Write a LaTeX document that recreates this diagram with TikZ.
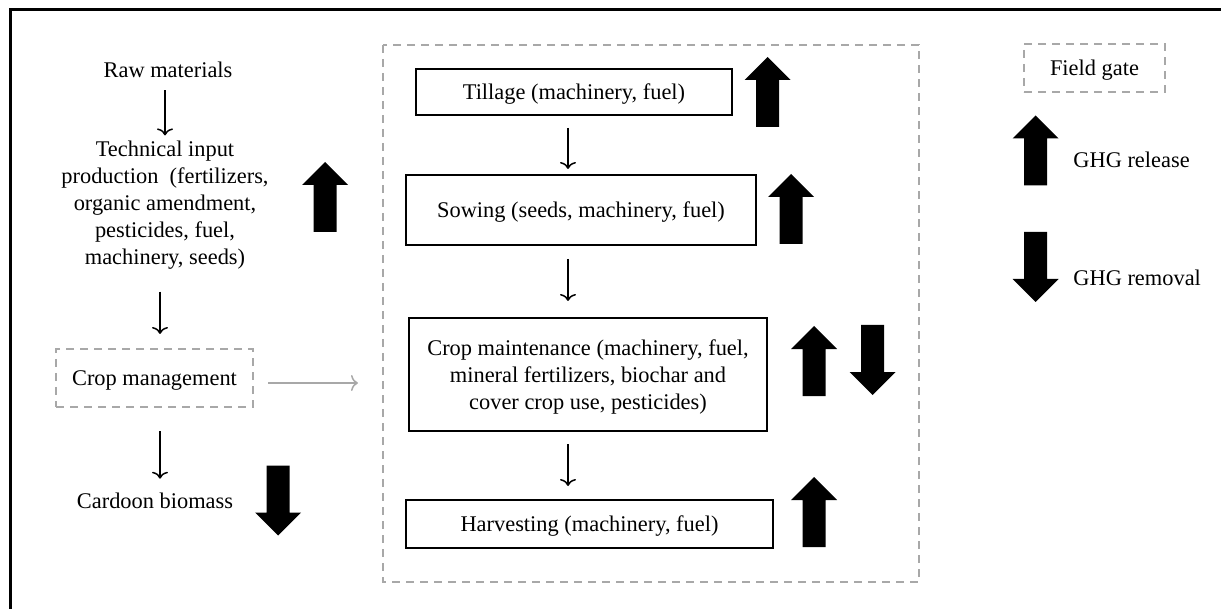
\documentclass[tikz,border=0pt]{standalone}
\usepackage{fontspec}
\setmainfont{Liberation Serif}
\usetikzlibrary{arrows.meta}
\definecolor{gatecolor}{RGB}{168,168,168}
\tikzset{
    ghgup/.pic={\fill (-11.5,35) -- (-11.5,-12) -- (-23,-12) -- (0,-35) -- (23,-12) -- (11.5,-12) -- (11.5,35) -- cycle;},
    ghgdown/.pic={\fill (-11.5,-35) -- (-11.5,12) -- (-23,12) -- (0,35) -- (23,12) -- (11.5,12) -- (11.5,-35) -- cycle;}
}
\begin{document}
\begin{tikzpicture}[x=0.5pt, y=-0.5pt, font=\fontsize{11.2}{13.5}\selectfont,
    stagebox/.style={rectangle, draw, line width=1pt, inner sep=0pt, align=center, text depth=0pt},
    gatebox/.style={rectangle, draw=gatecolor, line width=1pt, dash pattern=on 4pt off 3pt, inner sep=0pt, text depth=0pt},
    plain/.style={inner sep=0pt, align=center},
    flow/.style={-{To[length=3.5pt,width=8pt]}, line width=0.75pt},
    feed/.style={-{To[length=3.5pt,width=8pt]}, line width=0.75pt, gatecolor}]
    \clip (0,0) rectangle (1221,609);
    \useasboundingbox (0,0) rectangle (1221,609);
    \draw[line width=1.5pt] (10,10) rectangle (1250,650);

    % Upstream chain
    \node[plain] (raw) at (168,70) {Raw materials};
    \node[plain] (tech) at (165,205) {Technical input\\production\ \ (fertilizers,\\organic amendment,\\pesticides, fuel,\\machinery, seeds)};
    \node[gatebox, minimum width=98.5pt, minimum height=29pt] (mgmt) at (154.5,378) {Crop management};
    \node[plain] (cardoon) at (155,501) {Cardoon biomass};
    \coordinate (leftaxis) at (160,0);

    \draw[flow, shorten <=6pt, shorten >=2.5pt] (raw.south -| 165,0) -- (tech.north -| 165,0);
    \draw[flow, shorten <=11pt, shorten >=7pt] (tech.south -| leftaxis) -- (mgmt.north -| leftaxis);
    \draw[flow, shorten <=11.5pt, shorten >=7pt] (mgmt.south -| leftaxis) -- (cardoon.north -| leftaxis);

    \pic at (325,197) {ghgup};
    \pic at (278,500.5) {ghgdown};

    % Field operations
    \draw[gatebox] (383,45) rectangle (919,582);
    \node[stagebox, minimum width=158pt, minimum height=23pt] (till) at (574,92) {Tillage (machinery, fuel)};
    \node[stagebox, minimum width=175pt, minimum height=35pt] (sow) at (581,210) {Sowing (seeds, machinery, fuel)};
    \node[stagebox, minimum width=179pt, minimum height=56.5pt] (maint) at (588,374.5) {Crop maintenance (machinery, fuel,\\mineral fertilizers, biochar and\\cover crop use, pesticides)};
    \node[stagebox, minimum width=183.5pt, minimum height=24pt] (harv) at (589.5,524) {Harvesting (machinery, fuel)};
    \coordinate (midaxis) at (568,0);

    \draw[flow, shorten <=6pt, shorten >=2.5pt] (till.south -| midaxis) -- (sow.north -| midaxis);
    \draw[flow, shorten <=6.5pt, shorten >=8pt] (sow.south -| midaxis) -- (maint.north -| midaxis);
    \draw[flow, shorten <=6pt, shorten >=6.5pt] (maint.south -| midaxis) -- (harv.north -| midaxis);

    \coordinate (feedout) at (268,383);
    \coordinate (feedin) at (358,383);
    \draw[feed] (feedout) -- (feedin);

    \pic at (767.5,92) {ghgup};
    \pic at (791,209) {ghgup};
    \pic at (814,361) {ghgup};
    \pic at (872.5,360) {ghgdown};
    \pic at (814,512) {ghgup};

    % Legend
    \node[gatebox, minimum width=70.5pt, minimum height=24pt] (gate) at (1094.5,68) {Field gate};
    \pic at (1035.5,150.5) {ghgup};
    \node[plain, anchor=west] (release) at (1073,160) {GHG release};
    \pic at (1035.5,267) {ghgdown};
    \node[plain, anchor=west] (removal) at (1073,278) {GHG removal};
\end{tikzpicture}
\end{document}
